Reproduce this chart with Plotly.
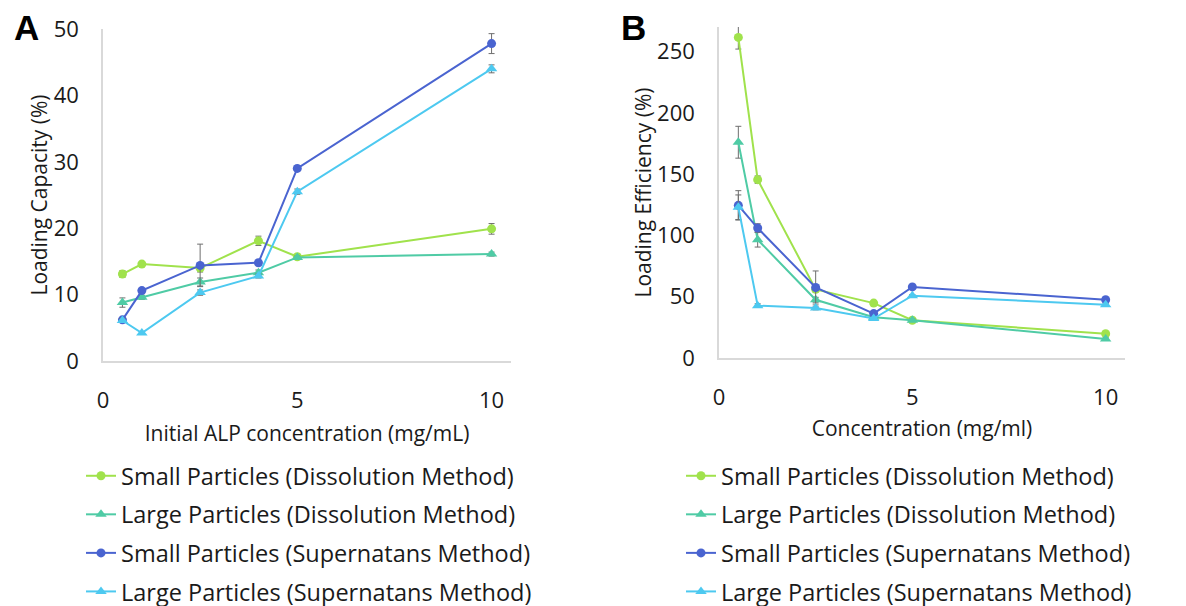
import plotly.graph_objects as go

# ---------------- data ----------------
conc = [0.5, 1, 2.5, 4, 5, 10]
series_names = [
    "Small Particles (Dissolution Method)",
    "Large Particles (Dissolution Method)",
    "Small Particles (Supernatans Method)",
    "Large Particles (Supernatans Method)",
]
# Panel A: Loading Capacity (%)
cap_small_diss = [13.1, 14.6, 14.0, 18.1, 15.7, 19.9]
cap_large_diss = [8.8, 9.6, 11.9, 13.3, 15.6, 16.1]
cap_small_sup = [6.2, 10.6, 14.4, 14.8, 29.0, 47.8]
cap_large_sup = [6.1, 4.2, 10.3, 12.8, 25.5, 44.0]
cap_err_small_diss = [0.5, 0.3, 0.6, 0.7, 0.3, 0.8]
cap_err_large_diss = [0.7, 0.3, 0.6, 0.4, 0.2, 0.3]
cap_err_small_sup = [0.3, 0.3, 3.2, 0.3, 0.3, 1.5]
cap_err_large_sup = [0.3, 0.2, 0.4, 0.3, 0.4, 0.6]

# Panel B: Loading Efficiency (%)
eff_small_diss = [261.5, 145.5, 56.0, 44.8, 30.8, 19.8]
eff_large_diss = [176.0, 96.5, 47.5, 33.2, 30.8, 15.5]
eff_small_sup = [124.5, 106.0, 57.5, 36.2, 58.0, 47.5]
eff_large_sup = [123.0, 42.7, 40.8, 32.2, 50.8, 43.5]
eff_err_small_diss = [9.5, 3.0, 2.0, 1.0, 1.0, 1.0]
eff_err_large_diss = [13.0, 6.0, 2.0, 1.0, 1.0, 1.0]
eff_err_small_sup = [12.0, 3.5, 13.5, 1.5, 1.0, 1.0]
eff_err_large_sup = [10.0, 1.5, 1.5, 1.0, 1.0, 1.0]

x_ticks = [0, 5, 10]
capA_ticks = [0, 10, 20, 30, 40, 50]
effB_ticks = [0, 50, 100, 150, 200, 250]

# ---------------- styles ----------------
colors = ["#a0e24c", "#4fcba5", "#4a64d0", "#4dc9f0"]
symbols = ["circle", "triangle-up", "circle", "triangle-up"]
msizes = [9, 10, 9, 10]
FONT = "Open Sans"
TXT = "#1a1a1a"

capA = [cap_small_diss, cap_large_diss, cap_small_sup, cap_large_sup]
capA_err = [cap_err_small_diss, cap_err_large_diss, cap_err_small_sup, cap_err_large_sup]
effB = [eff_small_diss, eff_large_diss, eff_small_sup, eff_large_sup]
effB_err = [eff_err_small_diss, eff_err_large_diss, eff_err_small_sup, eff_err_large_sup]

fig = go.Figure()

for i in range(4):
    fig.add_trace(go.Scatter(
        x=conc, y=capA[i], mode="lines+markers", name=series_names[i],
        line=dict(color=colors[i], width=2),
        marker=dict(symbol=symbols[i], size=msizes[i], color=colors[i]),
        error_y=dict(type="data", array=capA_err[i], color="#6e6e6e", thickness=1, width=3),
        xaxis="x", yaxis="y", legend="legend", legendgroup="a%d" % i,
    ))
for i in range(4):
    fig.add_trace(go.Scatter(
        x=conc, y=effB[i], mode="lines+markers", name=series_names[i],
        line=dict(color=colors[i], width=2),
        marker=dict(symbol=symbols[i], size=msizes[i], color=colors[i]),
        error_y=dict(type="data", array=effB_err[i], color="#6e6e6e", thickness=1, width=3),
        xaxis="x2", yaxis="y2", legend="legend2", legendgroup="b%d" % i,
    ))

W, H = 1186, 606
OFFX, OFFY = 5, 8  # page offset
def px_x(p):
    return (p - OFFX) / W
def px_y(p):
    return 1 - (p - OFFY) / H

axis_common = dict(
    showgrid=False, zeroline=False, showline=True, linecolor="#d9d9d9", linewidth=1.5,
    ticks="", automargin=False, tickfont=dict(family=FONT, size=22, color=TXT),
    title_font=dict(family=FONT, size=21, color=TXT),
)

fig.update_layout(
    width=W, height=H,
    margin=dict(l=0, r=0, t=0, b=0, autoexpand=False),
    paper_bgcolor="white", plot_bgcolor="white",
    font=dict(family=FONT, color=TXT),
    xaxis=dict(domain=[px_x(100), px_x(508)], range=[0, 10.5], tickvals=x_ticks,
               ticklabelstandoff=19, title=dict(text="Initial ALP concentration (mg/mL)", standoff=13),
               anchor="y", **axis_common),
    yaxis=dict(domain=[px_y(361), px_y(29)], range=[0, 50], tickvals=capA_ticks,
               ticklabelstandoff=18, title=dict(text="Loading Capacity (%)", standoff=0),
               anchor="x", **axis_common),
    xaxis2=dict(domain=[px_x(716), px_x(1122)], range=[0, 10.5], tickvals=x_ticks,
                ticklabelstandoff=19, title=dict(text="Concentration (mg/ml)", standoff=11),
                anchor="y2", **axis_common),
    yaxis2=dict(domain=[px_y(358), px_y(27)], range=[0, 270], tickvals=effB_ticks,
                ticklabelstandoff=18, title=dict(text="Loading Efficiency (%)", standoff=0),
                anchor="x2", **axis_common),
    legend=dict(x=px_x(78), y=px_y(454), xanchor="left", yanchor="top",
                font=dict(family=FONT, size=23.5, color=TXT), tracegroupgap=5,
                bgcolor="rgba(0,0,0,0)"),
    legend2=dict(x=px_x(678), y=px_y(454), xanchor="left", yanchor="top",
                 font=dict(family=FONT, size=23.5, color=TXT), tracegroupgap=5,
                 bgcolor="rgba(0,0,0,0)"),
    showlegend=True,
)

fig.add_annotation(text="<b>A</b>", x=px_x(23), y=px_y(28), xref="paper", yref="paper",
                   xanchor="center", yanchor="middle",
                   showarrow=False, font=dict(family="Liberation Sans", size=35, color="black"))
fig.add_annotation(text="<b>B</b>", x=px_x(630), y=px_y(28), xref="paper", yref="paper",
                   xanchor="center", yanchor="middle",
                   showarrow=False, font=dict(family="Liberation Sans", size=35, color="black"))

fig.write_html("out.html")
